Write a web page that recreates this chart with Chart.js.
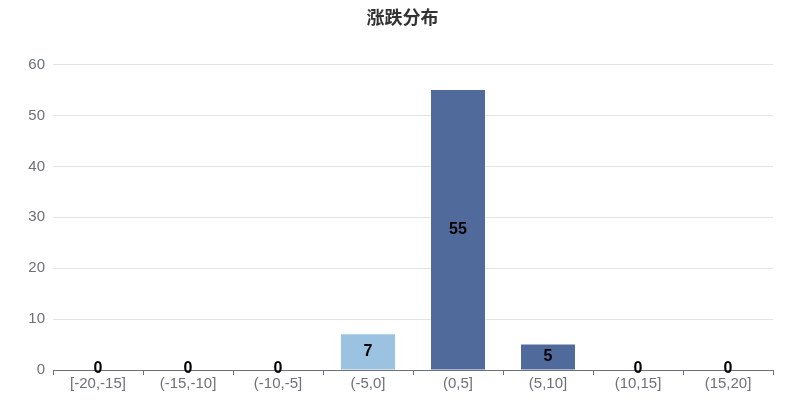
<!DOCTYPE html>
<html lang="zh">
<head>
    <meta charset="UTF-8">
    <title>涨跌分布</title>
    <script src="https://cdn.jsdelivr.net/npm/chart.js@4/dist/chart.umd.min.js"></script>
    <style>
        body { margin: 0; background: #fff; }
    </style>
</head>
<body>
    <canvas id="chart" width="805" height="405"></canvas>
    <script>
        // 涨跌幅区间和对应数量
        const categories = ['[-20,-15]', '(-15,-10]', '(-10,-5]', '(-5,0]', '(0,5]', '(5,10]', '(10,15]', '(15,20]'];
        const counts = [0, 0, 0, 7, 55, 5, 0, 0];
        const barColors = ['#516a9c', '#516a9c', '#516a9c', '#9bc3e1', '#516a9c', '#516a9c', '#516a9c', '#516a9c'];
        const yTicks = [0, 10, 20, 30, 40, 50, 60];

        // 数值标签画在柱子中间
        const valueLabels = {
            id: 'valueLabels',
            afterDatasetsDraw(chart) {
                const ctx = chart.ctx;
                const meta = chart.getDatasetMeta(0);
                ctx.save();
                ctx.font = 'bold 16px "Liberation Sans", Arial, sans-serif';
                ctx.fillStyle = '#000';
                ctx.textAlign = 'center';
                ctx.textBaseline = 'middle';
                meta.data.forEach((bar, i) => {
                    const y = (bar.y + bar.base) / 2 - (counts[i] === 0 ? 1 : 0);
                    ctx.fillText(String(counts[i]), bar.x, y);
                });
                ctx.restore();
            }
        };

        const context = document.getElementById('chart').getContext('2d');
        const chart = new Chart(context, {
            type: 'bar',
            data: {
                labels: categories,
                datasets: [{
                    data: counts,
                    backgroundColor: barColors,
                    categoryPercentage: 1,
                    barPercentage: 0.6
                }]
            },
            options: {
                responsive: false,
                animation: false,
                layout: { padding: 0 },
                plugins: {
                    legend: { display: false },
                    tooltip: { enabled: false },
                    title: {
                        display: true,
                        text: '涨跌分布',
                        color: '#333',
                        font: { size: 18, weight: 'bold', family: '"Noto Sans CJK SC", sans-serif' },
                        padding: { top: 6, bottom: 37 }
                    }
                },
                scales: {
                    x: {
                        afterFit(scale) { scale.height = 35; },
                        border: { display: true, color: '#6e7079' },
                        grid: {
                            offset: true,
                            drawOnChartArea: false,
                            drawTicks: true,
                            tickLength: 5,
                            color: '#6e7079'
                        },
                        ticks: {
                            color: '#6e7079',
                            padding: 0,
                            font: { size: 15, family: '"Liberation Sans", Arial, sans-serif' }
                        }
                    },
                    y: {
                        min: 0,
                        max: 60,
                        afterFit(scale) { scale.width = 53; },
                        afterBuildTicks(scale) { scale.ticks = yTicks.map(v => ({ value: v })); },
                        border: { display: false },
                        grid: { color: '#e3e3e3', drawTicks: false },
                        ticks: {
                            color: '#6e7079',
                            padding: 8,
                            font: { size: 15, family: '"Liberation Sans", Arial, sans-serif' }
                        }
                    },
                    // 右侧留白
                    right: {
                        position: 'right',
                        display: true,
                        afterFit(scale) { scale.width = 32; },
                        border: { display: false },
                        grid: { display: false },
                        ticks: { display: false }
                    }
                }
            },
            plugins: [valueLabels]
        });
    </script>
</body>
</html>
